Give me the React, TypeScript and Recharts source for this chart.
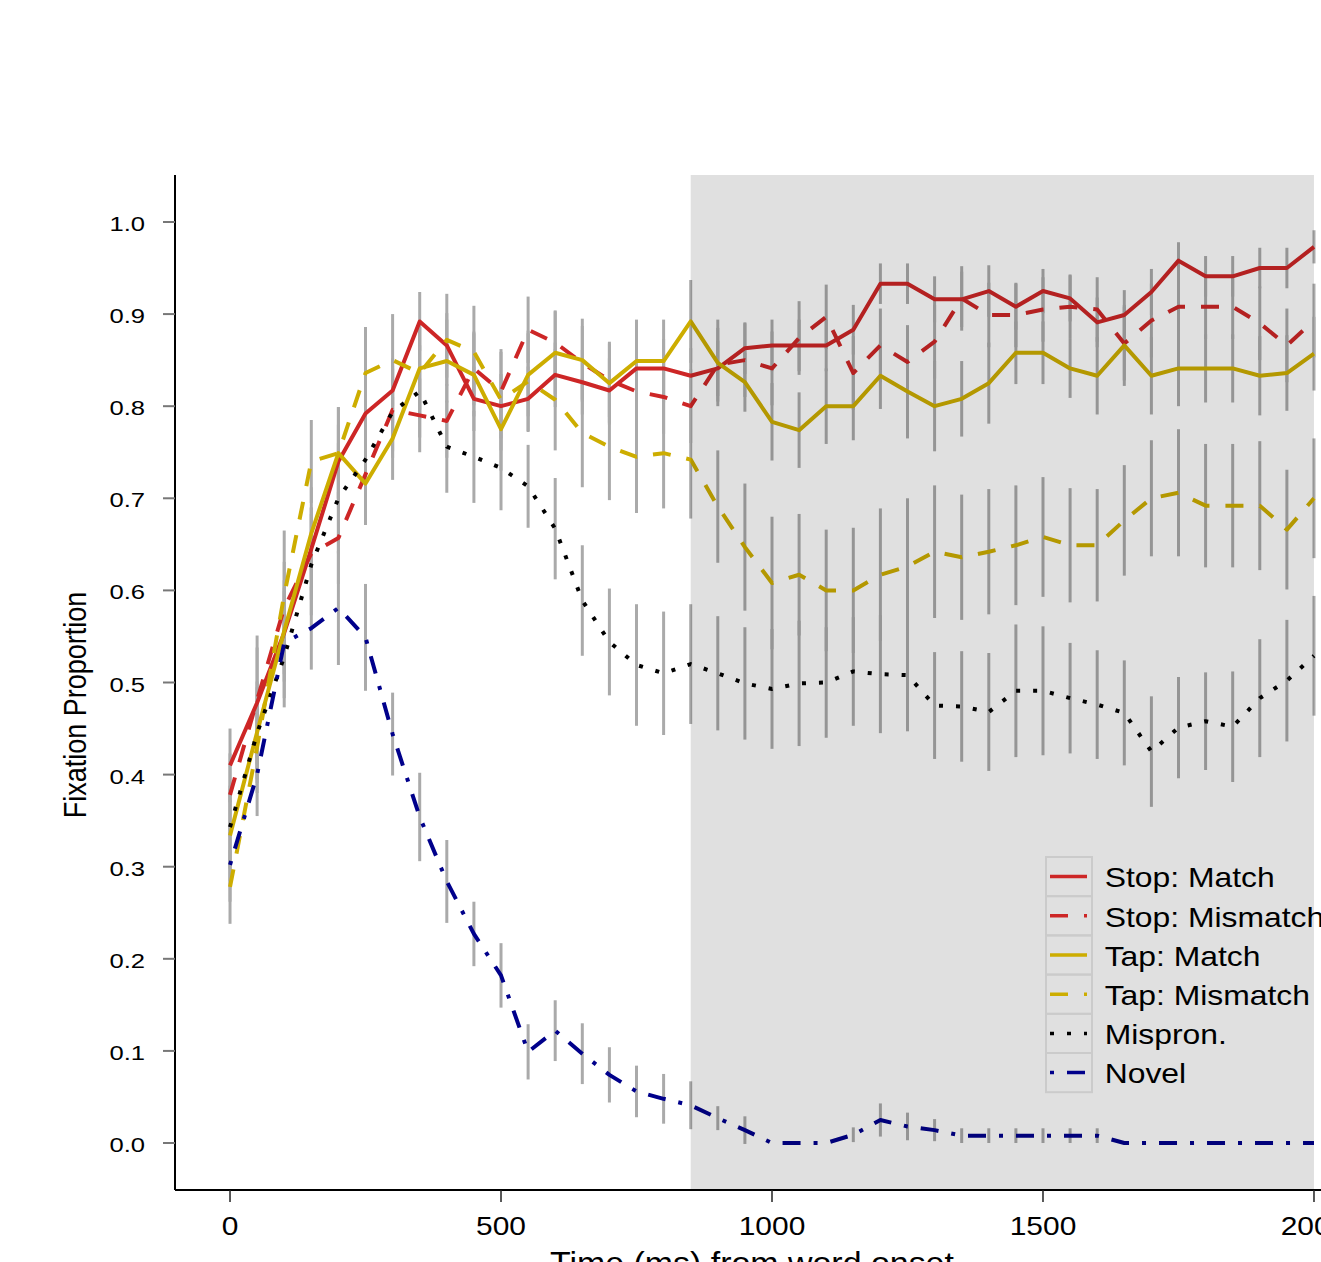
import { LineChart, Line, XAxis, YAxis, ErrorBar, ReferenceArea, Legend } from 'recharts';

// time points (ms from word onset)
const times = [
    0, 50, 100, 150, 200, 250, 300, 350, 400, 450, 500, 550, 600, 650, 700, 750, 800, 850, 900, 950,
    1000, 1050, 1100, 1150, 1200, 1250, 1300, 1350, 1400, 1450, 1500, 1550, 1600, 1650, 1700, 1750,
    1800, 1850, 1900, 1950, 2000,
];

const stopMatch = [
    0.410, 0.478, 0.554, 0.645, 0.740, 0.792, 0.817, 0.892, 0.866, 0.808, 0.800, 0.808, 0.834, 0.826,
    0.817, 0.841, 0.841, 0.833, 0.841, 0.863, 0.866, 0.866, 0.866, 0.883, 0.933, 0.933, 0.916, 0.916,
    0.925, 0.908, 0.925, 0.917, 0.891, 0.899, 0.924, 0.958, 0.941, 0.941, 0.950, 0.950, 0.973,
];
const stopMismatch = [
    0.378, 0.481, 0.581, 0.640, 0.657, 0.726, 0.796, 0.790, 0.784, 0.841, 0.816, 0.883, 0.869, 0.847,
    0.828, 0.816, 0.810, 0.800, 0.845, 0.850, 0.841, 0.874, 0.897, 0.836, 0.866, 0.848, 0.870, 0.917,
    0.899, 0.899, 0.905, 0.908, 0.905, 0.868, 0.893, 0.908, 0.908, 0.908, 0.890, 0.866, 0.893,
];
const tapMatch = [
    0.334, 0.446, 0.556, 0.662, 0.749, 0.716, 0.765, 0.841, 0.849, 0.834, 0.775, 0.834, 0.858, 0.850,
    0.825, 0.849, 0.849, 0.892, 0.847, 0.826, 0.783, 0.774, 0.800, 0.800, 0.833, 0.816, 0.800, 0.808,
    0.825, 0.858, 0.858, 0.841, 0.833, 0.866, 0.833, 0.841, 0.841, 0.841, 0.833, 0.836, 0.857,
];
const tapMismatch = [
    0.278, 0.430, 0.595, 0.740, 0.749, 0.836, 0.850, 0.836, 0.872, 0.859, 0.807, 0.827, 0.807, 0.771,
    0.756, 0.745, 0.749, 0.742, 0.691, 0.647, 0.608, 0.617, 0.600, 0.600, 0.617, 0.626, 0.642, 0.636,
    0.642, 0.649, 0.658, 0.649, 0.649, 0.676, 0.700, 0.706, 0.692, 0.692, 0.692, 0.666, 0.700,
];
const mispron = [
    0.343, 0.445, 0.528, 0.628, 0.700, 0.742, 0.794, 0.816, 0.756, 0.745, 0.733, 0.713, 0.667, 0.589,
    0.544, 0.519, 0.510, 0.520, 0.510, 0.499, 0.493, 0.499, 0.500, 0.512, 0.509, 0.508, 0.475, 0.474,
    0.468, 0.491, 0.491, 0.483, 0.476, 0.467, 0.425, 0.451, 0.458, 0.452, 0.483, 0.502, 0.529,
];
const novel = [
    0.302, 0.400, 0.543, 0.559, 0.581, 0.549, 0.444, 0.354, 0.284, 0.227, 0.182, 0.099, 0.122, 0.097,
    0.074, 0.056, 0.048, 0.041, 0.027, 0.014, 0.000, 0.000, 0.000, 0.009, 0.025, 0.018, 0.014, 0.008,
    0.008, 0.008, 0.008, 0.008, 0.008, 0.000, 0.000, 0.000, 0.000, 0.000, 0.000, 0.000, 0.000,
];

// standard errors (half length of the grey bars)
const stopMatchErr = [
    0.040, 0.060, 0.045, 0.045, 0.040, 0.035, 0.035, 0.032, 0.035, 0.035, 0.035, 0.035, 0.035, 0.035,
    0.035, 0.032, 0.032, 0.030, 0.030, 0.028, 0.028, 0.028, 0.028, 0.027, 0.022, 0.022, 0.025, 0.030,
    0.028, 0.025, 0.024, 0.025, 0.027, 0.027, 0.025, 0.020, 0.022, 0.022, 0.022, 0.022, 0.018,
];
const stopMismatchErr = [
    0.045, 0.070, 0.050, 0.050, 0.050, 0.045, 0.045, 0.040, 0.040, 0.040, 0.043, 0.036, 0.035, 0.040,
    0.040, 0.040, 0.040, 0.040, 0.040, 0.040, 0.040, 0.040, 0.035, 0.040, 0.040, 0.040, 0.040, 0.035,
    0.035, 0.035, 0.035, 0.035, 0.035, 0.040, 0.040, 0.035, 0.035, 0.035, 0.040, 0.040, 0.040,
];
const tapMatchErr = [
    0.050, 0.055, 0.055, 0.050, 0.050, 0.045, 0.045, 0.045, 0.045, 0.045, 0.045, 0.045, 0.045, 0.045,
    0.045, 0.045, 0.045, 0.045, 0.047, 0.032, 0.042, 0.041, 0.041, 0.037, 0.036, 0.051, 0.049, 0.041,
    0.044, 0.034, 0.034, 0.032, 0.042, 0.044, 0.042, 0.041, 0.037, 0.037, 0.043, 0.041, 0.040,
];
const tapMismatchErr = [
    0.040, 0.050, 0.070, 0.045, 0.050, 0.050, 0.050, 0.050, 0.050, 0.050, 0.055, 0.055, 0.055, 0.059,
    0.058, 0.061, 0.060, 0.064, 0.061, 0.069, 0.072, 0.066, 0.066, 0.068, 0.072, 0.074, 0.072, 0.068,
    0.068, 0.065, 0.065, 0.062, 0.061, 0.060, 0.063, 0.069, 0.067, 0.067, 0.070, 0.065, 0.065,
];
const mispronErr = [
    0.045, 0.050, 0.055, 0.055, 0.060, 0.055, 0.050, 0.050, 0.050, 0.050, 0.046, 0.045, 0.055, 0.060,
    0.058, 0.066, 0.067, 0.065, 0.062, 0.061, 0.065, 0.068, 0.060, 0.059, 0.064, 0.061, 0.058, 0.060,
    0.064, 0.072, 0.070, 0.060, 0.059, 0.057, 0.060, 0.055, 0.053, 0.060, 0.064, 0.066, 0.065,
];
const novelErr = [
    0.040, 0.045, 0.060, 0.045, 0.062, 0.058, 0.045, 0.048, 0.045, 0.035, 0.035, 0.030, 0.033, 0.033,
    0.030, 0.028, 0.027, 0.026, 0.013, 0.015, 0.000, 0.000, 0.000, 0.008, 0.018, 0.015, 0.012, 0.008,
    0.008, 0.008, 0.008, 0.008, 0.008, 0.000, 0.000, 0.000, 0.000, 0.000, 0.000, 0.000, 0.000,
];

const xTicks = [0, 500, 1000, 1500, 2000];
const yTicks = [0, 0.1, 0.2, 0.3, 0.4, 0.5, 0.6, 0.7, 0.8, 0.9, 1.0];

const FONT = '"Liberation Sans", Arial, Helvetica, sans-serif';

const series = [
    { key: 'stopMatch', name: 'Stop: Match', color: '#CD2626', dash: undefined as string | undefined },
    { key: 'stopMismatch', name: 'Stop: Mismatch', color: '#CD2626', dash: '18 16' },
    { key: 'tapMatch', name: 'Tap: Match', color: '#CDAD00', dash: undefined },
    { key: 'tapMismatch', name: 'Tap: Mismatch', color: '#CDAD00', dash: '18 16' },
    { key: 'mispron', name: 'Mispron.', color: '#000000', dash: '4 13' },
    { key: 'novel', name: 'Novel', color: '#00008B', dash: '4 13 18 13' },
];

const rows = times.map((t, i) => ({
    t,
    stopMatch: stopMatch[i],
    stopMatchErr: stopMatchErr[i],
    stopMismatch: stopMismatch[i],
    stopMismatchErr: stopMismatchErr[i],
    tapMatch: tapMatch[i],
    tapMatchErr: tapMatchErr[i],
    tapMismatch: tapMismatch[i],
    tapMismatchErr: tapMismatchErr[i],
    mispron: mispron[i],
    mispronErr: mispronErr[i],
    novel: novel[i],
    novelErr: novelErr[i],
}));

const XTick = (props: any) => {
    const { x, y, payload } = props;
    return (
        <g transform={`translate(${x},${y + 31}) scale(1.13,1)`}>
            <text x={0} y={0} textAnchor="middle" fontSize={26.5} fontFamily={FONT} fill="#000">
                {payload.value}
            </text>
        </g>
    );
};

const YTick = (props: any) => {
    const { x, y, payload } = props;
    return (
        <g transform={`translate(${x - 16},${y + 9}) scale(1.28,1)`}>
            <text x={0} y={0} textAnchor="end" fontSize={20} fontFamily={FONT} fill="#000">
                {Number(payload.value).toFixed(1)}
            </text>
        </g>
    );
};

const YTitle = () => (
    <text
        transform="translate(86,705) rotate(-90) scale(1,1.19)"
        textAnchor="middle"
        fontSize={27}
        fontFamily={FONT}
        fill="#000"
    >
        Fixation Proportion
    </text>
);

const XTitle = () => (
    <text transform="translate(550,1274) scale(1.06,1)" fontSize={32} fontFamily={FONT} fill="#000">
        Time (ms) from word onset
    </text>
);

const ROW = 39.2;

const LegendBox = () => (
    <svg width={420} height={ROW * series.length + 4} style={{ display: 'block', overflow: 'visible' }}>
        {series.map((s, i) => {
            const top = 1 + i * ROW;
            const cy = top + ROW / 2;
            return (
                <g key={s.key}>
                    <rect x={1} y={top} width={46} height={ROW} fill="none" stroke="#cbcbcb" strokeWidth={2} />
                    <line
                        x1={5}
                        x2={42}
                        y1={cy}
                        y2={cy}
                        stroke={s.color}
                        strokeWidth={3.5}
                        strokeDasharray={s.dash}
                    />
                    <g transform={`translate(59.7,${cy + 10.7}) scale(1.18,1)`}>
                        <text x={0} y={0} fontSize={27} fontFamily={FONT} fill="#000">
                            {s.name}
                        </text>
                    </g>
                </g>
            );
        })}
    </svg>
);

export default function App() {
    return (
        <div
            style={{
                position: 'absolute',
                left: 0,
                top: 0,
                width: 1321,
                height: 1262,
                overflow: 'hidden',
                background: '#fff',
            }}
        >
            <LineChart width={1420} height={1262} data={rows} margin={{ top: 175, right: 51, bottom: 0, left: 75 }}>
                <XAxis
                    dataKey="t"
                    type="number"
                    domain={[-101.5, 2101.5]}
                    ticks={xTicks}
                    allowDataOverflow
                    height={72}
                    tickSize={12}
                    axisLine={{ stroke: '#000', strokeWidth: 2 }}
                    tickLine={{ stroke: '#222', strokeWidth: 1.5 }}
                    tick={<XTick />}
                    label={<XTitle />}
                />
                <YAxis
                    type="number"
                    domain={[-0.051, 1.051]}
                    ticks={yTicks}
                    allowDataOverflow
                    width={100}
                    tickSize={12}
                    axisLine={{ stroke: '#000', strokeWidth: 2 }}
                    tickLine={{ stroke: '#777', strokeWidth: 2 }}
                    tick={<YTick />}
                    label={<YTitle />}
                />

                {/* error bars first so every line sits on top of them */}
                {series.map(s => (
                    <Line
                        key={`${s.key}-err`}
                        dataKey={s.key}
                        stroke="none"
                        dot={false}
                        activeDot={false}
                        legendType="none"
                        isAnimationActive={false}
                    >
                        <ErrorBar
                            dataKey={`${s.key}Err`}
                            width={0}
                            stroke="#aaaaaa"
                            strokeWidth={3}
                            direction="y"
                            isAnimationActive={false}
                        />
                    </Line>
                ))}

                {series.map(s => (
                    <Line
                        key={s.key}
                        type="linear"
                        dataKey={s.key}
                        name={s.name}
                        stroke={s.color}
                        strokeWidth={4}
                        strokeDasharray={s.dash}
                        strokeLinejoin="round"
                        dot={false}
                        activeDot={false}
                        isAnimationActive={false}
                    />
                ))}

                {/* response window shading, drawn over the lines */}
                <ReferenceArea
                    x1={850}
                    x2={2000}
                    fill="#000"
                    fillOpacity={0.12}
                    stroke="none"
                    ifOverflow="visible"
                    zIndex={450}
                />

                <Legend
                    layout="vertical"
                    align="center"
                    verticalAlign="middle"
                    content={<LegendBox />}
                    wrapperStyle={{ left: 1045, top: 856, width: 420, height: 245 }}
                />
            </LineChart>
        </div>
    );
}
